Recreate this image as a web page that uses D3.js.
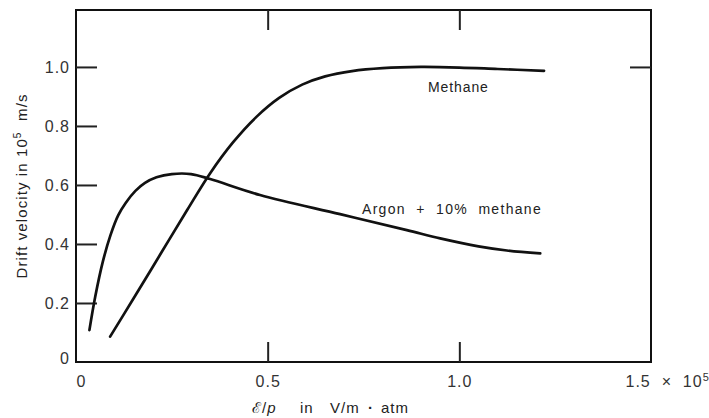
<!DOCTYPE html>
<html>
<head>
<meta charset="utf-8">
<script src="https://cdn.jsdelivr.net/npm/d3@7"></script>
<style>
  html, body { margin: 0; padding: 0; background: #fff; }
  svg { display: block; }
  text { font-family: "Liberation Sans", Arial, Helvetica, sans-serif; white-space: pre; }
</style>
</head>
<body>
<svg id="chart" width="709" height="418"></svg>
<script>
// ---- Data ----
const xTickValues = [0, 0.5, 1.0, 1.5];
const xTickLabels = ["0", "0.5", "1.0", "1.5 × 10"];
const yTickValues = [0, 0.2, 0.4, 0.6, 0.8, 1.0];
const yTickLabels = ["0", "0.2", "0.4", "0.6", "0.8", "1.0"];

const methaneX = [0.089, 0.15, 0.22, 0.29, 0.35, 0.41, 0.47, 0.53, 0.59, 0.65, 0.72, 0.80, 0.90, 1.00, 1.10, 1.221];
const methaneY = [0.086, 0.215, 0.365, 0.515, 0.640, 0.745, 0.830, 0.895, 0.940, 0.968, 0.986, 0.996, 1.000, 0.998, 0.993, 0.987];

const argonX = [0.035, 0.05, 0.07, 0.09, 0.11, 0.13, 0.155, 0.18, 0.21, 0.25, 0.30, 0.35, 0.48, 0.689, 0.863, 0.95, 1.05, 1.124, 1.211];
const argonY = [0.108, 0.22, 0.34, 0.43, 0.497, 0.540, 0.580, 0.607, 0.626, 0.637, 0.637, 0.620, 0.566, 0.501, 0.447, 0.419, 0.392, 0.378, 0.368];

const seriesLabels = ["Methane", "Argon  +  10%  methane"];

// ---- Layout ----
const svg = d3.select("#chart");
const mLeft = 76, mRight = 651, mTop = 10, mBottom = 362;

const x = d3.scaleLinear().domain([0, 1.5]).range([mLeft, mRight]);
const y = d3.scaleLinear().domain([0, 1.193]).range([mBottom, mTop]);

const tickFont = 16, tickColor = "#333";

// frame
svg.append("rect")
  .attr("x", mLeft).attr("y", mTop)
  .attr("width", mRight - mLeft).attr("height", mBottom - mTop)
  .attr("fill", "none").attr("stroke", "#111").attr("stroke-width", 2);

// left axis (ticks inward, labels outside)
const gLeft = svg.append("g").attr("transform", `translate(${mLeft},0)`)
  .call(d3.axisLeft(y).tickValues(yTickValues)
    .tickFormat((d, i) => yTickLabels[i])
    .tickSizeInner(-21).tickSizeOuter(0).tickPadding(6));
gLeft.select(".domain").remove();
gLeft.selectAll(".tick line").attr("stroke", "#222").attr("stroke-width", 2)
  .filter(d => d === 0).remove();
gLeft.selectAll(".tick text").attr("font-size", tickFont).attr("fill", tickColor)
  .attr("font-family", "Liberation Sans, Arial, sans-serif")
  .attr("letter-spacing", 1)
  .attr("dy", d => d === 0 ? "0.1em" : "0.35em");

// bottom axis
const gBottom = svg.append("g").attr("transform", `translate(0,${mBottom})`)
  .call(d3.axisBottom(x).tickValues(xTickValues)
    .tickFormat((d, i) => xTickLabels[i])
    .tickSizeInner(-20).tickSizeOuter(0).tickPadding(14));
gBottom.select(".domain").remove();
gBottom.selectAll(".tick line").attr("stroke", "#222").attr("stroke-width", 2)
  .filter(d => d === 0 || d === 1.5).remove();
gBottom.selectAll(".tick text").attr("font-size", tickFont).attr("fill", tickColor)
  .attr("font-family", "Liberation Sans, Arial, sans-serif")
  .attr("letter-spacing", 1);
gBottom.selectAll(".tick text").filter(d => d === 0).attr("x", 5);
gBottom.selectAll(".tick text").filter(d => d === 1.5)
  .attr("text-anchor", "start").attr("x", -26)
  .text("1.5  ×  10")
  .append("tspan").attr("font-size", 11).attr("dy", "-0.6em").text("5");

// top axis (ticks only)
const gTop = svg.append("g").attr("transform", `translate(0,${mTop})`)
  .call(d3.axisTop(x).tickValues([0.5, 1.0]).tickFormat("")
    .tickSizeInner(-20).tickSizeOuter(0));
gTop.select(".domain").remove();
gTop.selectAll(".tick line").attr("stroke", "#222").attr("stroke-width", 2);

// right axis (tick only at 1.0)
const gRight = svg.append("g").attr("transform", `translate(${mRight},0)`)
  .call(d3.axisRight(y).tickValues([1.0]).tickFormat("")
    .tickSizeInner(-21).tickSizeOuter(0));
gRight.select(".domain").remove();
gRight.selectAll(".tick line").attr("stroke", "#222").attr("stroke-width", 2);

// curves
const line = d3.line()
  .x(d => x(d[0])).y(d => y(d[1]))
  .curve(d3.curveCatmullRom.alpha(0.5));

const methane = methaneX.map((v, i) => [v, methaneY[i]]);
const argon = argonX.map((v, i) => [v, argonY[i]]);

[methane, argon].forEach(s => {
  svg.append("path").datum(s).attr("d", line)
    .attr("fill", "none").attr("stroke", "#111")
    .attr("stroke-width", 2.7).attr("stroke-linecap", "round")
    .attr("stroke-linejoin", "round");
});

// series labels
svg.append("text").attr("x", 428).attr("y", 92)
  .attr("font-size", 14).attr("letter-spacing", 0.9)
  .attr("fill", "#222").text(seriesLabels[0]);
svg.append("text").attr("x", 362).attr("y", 214)
  .attr("font-size", 14).attr("letter-spacing", 1.3)
  .attr("fill", "#222").text(seriesLabels[1]);

// axis titles
const xt = svg.append("text").attr("y", 413)
  .attr("font-size", 15).attr("fill", "#222").attr("letter-spacing", 1);
xt.append("tspan").attr("x", 252).text("ℰ/");
xt.append("tspan").attr("font-style", "italic").text("p");
xt.append("tspan").attr("x", 300).text("in");
xt.append("tspan").attr("x", 330).text("V/m");
xt.append("tspan").attr("x", 368).attr("font-weight", "bold").text("·");
xt.append("tspan").attr("x", 381).text("atm");

const yt = svg.append("text")
  .attr("transform", "translate(27,186) rotate(-90)")
  .attr("text-anchor", "middle").attr("font-size", 15)
  .attr("letter-spacing", 1.1).attr("fill", "#222");
yt.append("tspan").text("Drift velocity in 10");
yt.append("tspan").attr("font-size", 10).attr("dy", "-0.6em").text("5");
yt.append("tspan").attr("dy", "0.4em").text("  m/s");
</script>
</body>
</html>
